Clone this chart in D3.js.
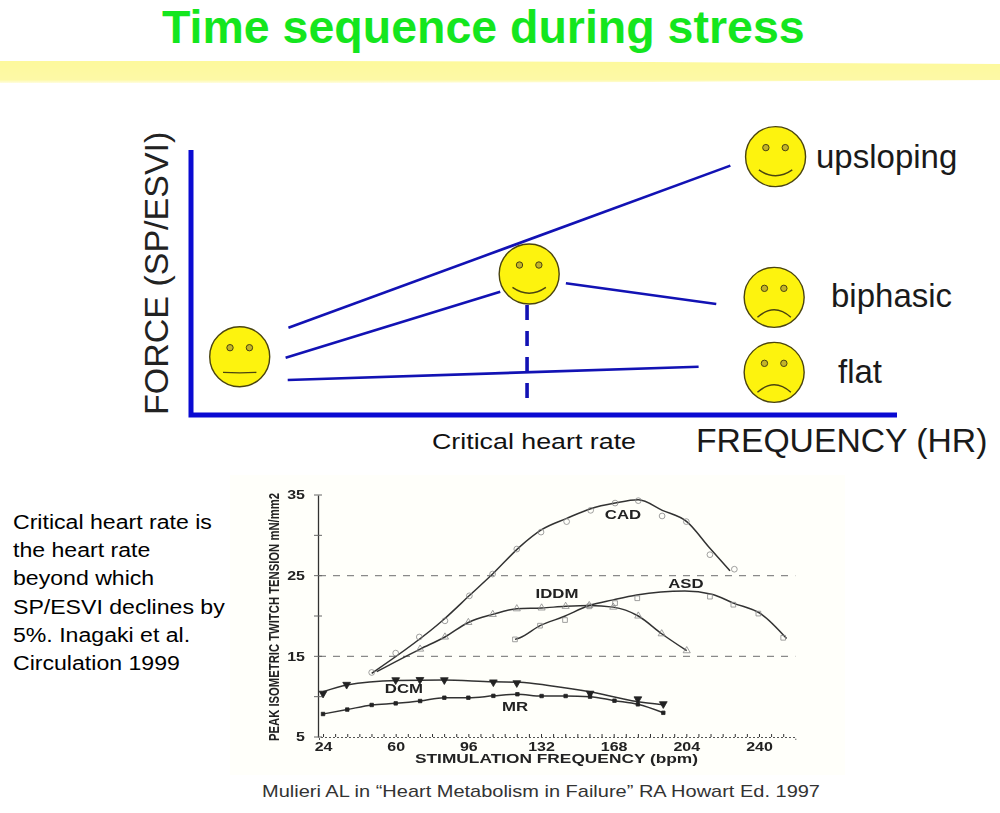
<!DOCTYPE html>
<html>
<head>
<meta charset="utf-8">
<script src="https://cdn.jsdelivr.net/npm/d3@7"></script>
<style>
  html, body { margin: 0; padding: 0; background: #fff; }
  text { font-family: "Liberation Sans", Arial, sans-serif; }
</style>
</head>
<body>
<script>
// Top sketch, both axes 0-100.
const sketchLines = [
  [[13.8, 32.9], [76.4, 94.1]],
  [[13.4, 21.6], [43.8, 46.5]],
  [[53.1, 49.7], [74.4, 41.9]],
  [[13.7, 13.2], [71.9, 18.2]]
];
const criticalLine = [[47.6, 41.5], [47.6, 6.3]];
const faces = [
  { x: 6.9, y: 22, mood: 'neutral' },
  { x: 47.9, y: 53.2, mood: 'smile' },
  { x: 82.8, y: 97.5, mood: 'smile' },
  { x: 82.6, y: 44.4, mood: 'frown' },
  { x: 82.6, y: 16.1, mood: 'frown' }
];

// Bottom chart. Symbols scatter around the fitted lines.
const cadPoints = [[48.1,13],[60,15.4],[71.7,17.4],[84.4,19.4],[96.5,22.5],[108,25.2],[120,28.3],[132,30.4],[144.7,31.7],[156.6,33.1],[168.7,34],[180.2,34.3],[192,32.4],[204,31.7],[215.7,27.6],[227.8,25.8]];
const cadLine = [[48.1,12.9],[83.5,19.5],[96.8,22.6],[108.4,25.3],[121.6,28.6],[132.3,30.7],[144.7,32.1],[156.6,33.3],[168.7,34],[180.2,34.4],[192.1,33.1],[204.2,31.7],[215.7,28.4],[225.7,25.6]];
const iddmPoints = [[72.1,15.9],[84.4,17.4],[96,19.2],[108.1,20.2],[120,20.9],[132.3,21],[144.2,21.2],[155.9,21.3],[167.8,21.1],[180.2,20],[191.8,17.8],[204.2,15.7]];
const iddmLine = [[50.6,13.1],[72.1,15.9],[84.4,17.4],[96,19.2],[108.1,20.2],[120,20.9],[132.3,21],[144.2,21.2],[155.9,21.3],[167.8,21.1],[180.2,20],[191.8,17.8],[204.2,15.7]];
const asdPoints = [[119.1,17.1],[131.5,18.8],[143.9,19.5],[155.9,21.2],[168.7,21.6],[179.7,22.2],[215.7,22.4],[227.3,21.4],[239.7,20.3],[252,17.3]];
const asdLine = [[119.1,17.1],[121.6,17.3],[131.5,18.8],[143,19.9],[155.9,21.3],[167.8,22],[179.4,22.6],[203.3,23.1],[216.6,22.7],[227.3,21.6],[241.3,20.2],[253.7,17.2]];
const dcmPoints = [[24,10.4],[35.7,11.5],[60,12.07],[72,12.1],[84.1,12.07],[108.4,11.8],[120,11.7],[156.3,10.4],[180,9.7],[192.6,9.1]];
const dcmLine = [[24,10.6],[35.7,11.45],[60.5,12],[83.5,12.07],[108.4,11.85],[121.6,11.8],[136.5,11.36],[156.3,10.6],[179.4,9.4],[192.4,9]];
const mrPoints = [[24,7.85],[36,8.4],[48.1,8.97],[60,9.17],[72.1,9.46],[84.1,9.87],[96,9.87],[108.4,10.1],[120.3,10.3],[132.3,10.08],[144.2,10.08],[156.3,10],[168.4,9.5],[180,9.05],[192.6,8]];
const curveNames = [
  { name: 'CAD', x: 172.6, y: 32.5 },
  { name: 'IDDM', x: 139.9, y: 22.7 },
  { name: 'ASD', x: 203.8, y: 24 },
  { name: 'DCM', x: 64.1, y: 10.95 },
  { name: 'MR', x: 119.1, y: 8.7 }
];
const xTicks = [24, 60, 96, 132, 168, 204, 240];
const xMinorTicks = d3.range(24, 258, 6);
const yTicks = [5, 15, 25, 35];
const yMinorTicks = [10, 20, 30];
const gridValues = [15, 25];
const noteLines = ['Critical heart rate is', 'the heart rate', 'beyond which', 'SP/ESVI declines by', '5%. Inagaki et al.', 'Circulation 1999'];

const width = 1000;
const height = 813;

const svg = d3.select('body').append('svg')
  .attr('width', width)
  .attr('height', height)
  .style('display', 'block');

const defs = svg.append('defs');
defs.append('filter').attr('id', 'scan')
  .append('feGaussianBlur').attr('stdDeviation', 0.45);
const bandFade = defs.append('linearGradient').attr('id', 'bandFade')
  .attr('x1', 0).attr('x2', 0).attr('y1', 0).attr('y2', 1);
bandFade.append('stop').attr('offset', '0%').attr('stop-color', '#fdf99c');
bandFade.append('stop').attr('offset', '85%').attr('stop-color', '#fdf9a6');
bandFade.append('stop').attr('offset', '100%').attr('stop-color', '#fffde0');

// Title and band.
svg.append('path')
  .attr('d', 'M0,61 L330,61 L650,62 L1000,64 L1000,80 L650,82 L330,83 L0,83 Z')
  .attr('fill', 'url(#bandFade)')
  .attr('filter', 'url(#scan)');

svg.append('text')
  .attr('x', 162)
  .attr('y', 43)
  .attr('font-size', 46.5)
  .attr('font-weight', 'bold')
  .attr('fill', '#14e61e')
  .text('Time sequence during stress');

// Top sketch.
const xSketch = d3.scaleLinear().domain([0, 100]).range([191, 897]);
const ySketch = d3.scaleLinear().domain([0, 100]).range([415, 150]);
const sketchLine = d3.line().x((d) => xSketch(d[0])).y((d) => ySketch(d[1]));

svg.append('path')
  .attr('d', sketchLine([[0, 100], [0, 0], [100, 0]]))
  .attr('fill', 'none')
  .attr('stroke', '#0a0ad2')
  .attr('stroke-width', 5);

svg.selectAll('.sketch-line')
  .data(sketchLines)
  .enter()
  .append('path')
  .attr('class', 'sketch-line')
  .attr('d', sketchLine)
  .attr('fill', 'none')
  .attr('stroke', '#1212b4')
  .attr('stroke-width', 2.6);

svg.append('path')
  .attr('d', sketchLine(criticalLine))
  .attr('fill', 'none')
  .attr('stroke', '#1212b4')
  .attr('stroke-width', 3.6)
  .attr('stroke-dasharray', '15 11');

const mouths = {
  neutral: 'M-16.7,15.7 Q0,16.6 16.7,15.7',
  smile: 'M-16.7,13.3 Q0,25 16.7,13.3',
  frown: 'M-16.7,20 Q0,5 16.7,20'
};

const face = svg.selectAll('.face')
  .data(faces)
  .enter()
  .append('g')
  .attr('class', 'face')
  .attr('transform', (d) => 'translate(' + xSketch(d.x) + ',' + ySketch(d.y) + ')');

face.append('circle')
  .attr('r', 30)
  .attr('fill', '#fdf30e')
  .attr('stroke', '#4a4410')
  .attr('stroke-width', 1.4);

face.selectAll('.eye')
  .data([-9.7, 9.7])
  .enter()
  .append('circle')
  .attr('class', 'eye')
  .attr('cx', (d) => d)
  .attr('cy', -9)
  .attr('r', 3.2)
  .attr('fill', '#c2b32a')
  .attr('stroke', '#4a4410')
  .attr('stroke-width', 1);

face.append('path')
  .attr('d', (d) => mouths[d.mood])
  .attr('fill', 'none')
  .attr('stroke', '#4a4410')
  .attr('stroke-width', 1.4);

svg.append('text')
  .attr('transform', 'translate(168,415) rotate(-90)')
  .attr('font-size', 34)
  .attr('fill', '#222')
  .text('FORCE (SP/ESVI)');

const sketchLabels = [
  { t: 'upsloping', x: 816, y: 168, s: 33 },
  { t: 'biphasic', x: 831, y: 307, s: 33 },
  { t: 'flat', x: 838, y: 383, s: 33 },
  { t: 'FREQUENCY (HR)', x: 696, y: 452, s: 33.7 }
];
svg.selectAll('.sketch-label')
  .data(sketchLabels)
  .enter()
  .append('text')
  .attr('class', 'sketch-label')
  .attr('x', (d) => d.x)
  .attr('y', (d) => d.y)
  .attr('font-size', (d) => d.s)
  .attr('fill', '#1a1a1a')
  .text((d) => d.t);

svg.append('text')
  .attr('x', 432)
  .attr('y', 449)
  .attr('font-size', 22.5)
  .attr('textLength', 204)
  .attr('lengthAdjust', 'spacingAndGlyphs')
  .attr('fill', '#111')
  .text('Critical heart rate');

// Left note, the slide's text is a bit wider than the font.
svg.selectAll('.note')
  .data(noteLines)
  .enter()
  .append('text')
  .attr('class', 'note')
  .attr('transform', (d, i) => 'translate(13,' + (529 + i * 28.2) + ') scale(1.1,1)')
  .attr('font-size', 21)
  .attr('fill', '#000')
  .text((d) => d);

// Bottom chart.
svg.append('rect')
  .attr('x', 230).attr('y', 475)
  .attr('width', 615).attr('height', 300)
  .attr('fill', '#fffffa');

const xScale = d3.scaleLinear().domain([22, 258]).range([319, 795.3]);
const yScale = d3.scaleLinear().domain([5, 35]).range([737, 495]);
const chart = svg.append('g').attr('filter', 'url(#scan)');

chart.selectAll('.grid')
  .data(gridValues)
  .enter()
  .append('line')
  .attr('class', 'grid')
  .attr('x1', xScale(22))
  .attr('x2', xScale(258))
  .attr('y1', (d) => yScale(d))
  .attr('y2', (d) => yScale(d))
  .attr('stroke', '#8a8a8a')
  .attr('stroke-width', 1.2)
  .attr('stroke-dasharray', '7 7');

const xAxisMinor = d3.axisBottom(xScale).tickValues(xMinorTicks).tickSize(3).tickFormat('');
chart.append('g')
  .attr('transform', 'translate(0,' + yScale(5) + ')')
  .call(xAxisMinor)
  .call((g) => g.select('.domain').attr('stroke-dasharray', '2 2').attr('stroke', '#555'))
  .call((g) => g.selectAll('.tick line').attr('y1', -3).attr('y2', 0).attr('stroke', '#333'));

// Tick digits on the scan are short and wide.
const wideDigits = (sel) => sel
  .attr('font-size', 12)
  .attr('font-weight', 'bold')
  .attr('fill', '#222')
  .attr('lengthAdjust', 'spacingAndGlyphs')
  .attr('textLength', function () { return this.textContent.length * 8.9; });

const xAxis = d3.axisBottom(xScale).tickValues(xTicks).tickSize(0);
chart.append('g')
  .attr('transform', 'translate(0,' + yScale(5) + ')')
  .call(xAxis)
  .call((g) => g.select('.domain').remove())
  .call((g) => g.selectAll('text').attr('y', 14).attr('dy', 0).call(wideDigits));

const yAxis = d3.axisLeft(yScale).tickValues(yTicks).tickSize(0).tickPadding(13);
chart.append('g')
  .attr('transform', 'translate(318,0)')
  .call(yAxis)
  .call((g) => g.select('.domain').attr('stroke', '#333').attr('stroke-width', 1.3))
  .call((g) => g.selectAll('text').call(wideDigits));

chart.selectAll('.y-minor')
  .data(yTicks.concat(yMinorTicks))
  .enter()
  .append('line')
  .attr('class', 'y-minor')
  .attr('x1', 314)
  .attr('x2', 322)
  .attr('y1', (d) => yScale(d))
  .attr('y2', (d) => yScale(d))
  .attr('stroke', '#666');

const curve = d3.line()
  .x((d) => xScale(d[0]))
  .y((d) => yScale(d[1]))
  .curve(d3.curveMonotoneX);

chart.selectAll('.fit')
  .data([cadLine, iddmLine, asdLine, dcmLine, mrPoints])
  .enter()
  .append('path')
  .attr('class', 'fit')
  .attr('d', curve)
  .attr('fill', 'none')
  .attr('stroke', '#333')
  .attr('stroke-width', 1.5);

const drawSymbols = (points, type, size, fill, stroke, rotate) => {
  chart.append('g')
    .selectAll('path')
    .data(points)
    .enter()
    .append('path')
    .attr('d', d3.symbol().type(type).size(size))
    .attr('transform', (d) => 'translate(' + xScale(d[0]) + ',' + yScale(d[1]) + ') rotate(' + rotate + ')')
    .attr('fill', fill)
    .attr('stroke', stroke)
    .attr('stroke-width', 0.8);
};

drawSymbols(cadPoints, d3.symbolCircle, 26, 'none', '#888', 0);
drawSymbols(iddmPoints, d3.symbolTriangle, 22, 'none', '#888', 0);
drawSymbols(asdPoints, d3.symbolSquare, 22, 'none', '#888', 0);
drawSymbols(dcmPoints, d3.symbolTriangle, 26, '#222', '#222', 180);
drawSymbols(mrPoints, d3.symbolSquare, 12, '#222', '#222', 0);

chart.selectAll('.curve-name')
  .data(curveNames)
  .enter()
  .append('text')
  .attr('class', 'curve-name')
  .attr('transform', (d) => 'translate(' + xScale(d.x) + ',' + yScale(d.y) + ') scale(1.4,1)')
  .attr('text-anchor', 'middle')
  .attr('dominant-baseline', 'central')
  .attr('font-size', 12)
  .attr('font-weight', 'bold')
  .attr('fill', '#222')
  .text((d) => d.name);

chart.append('text')
  .attr('x', 415)
  .attr('y', 763)
  .attr('font-size', 12)
  .attr('font-weight', 'bold')
  .attr('textLength', 283)
  .attr('lengthAdjust', 'spacingAndGlyphs')
  .attr('fill', '#222')
  .text('STIMULATION FREQUENCY (bpm)');

chart.append('text')
  .attr('transform', 'translate(279,741) rotate(-90)')
  .attr('font-size', 15)
  .attr('font-weight', 'bold')
  .attr('textLength', 248)
  .attr('lengthAdjust', 'spacingAndGlyphs')
  .attr('fill', '#222')
  .text('PEAK ISOMETRIC TWITCH TENSION  mN/mm2');

svg.append('text')
  .attr('x', 262)
  .attr('y', 797)
  .attr('font-size', 17)
  .attr('textLength', 558)
  .attr('lengthAdjust', 'spacingAndGlyphs')
  .attr('fill', '#333')
  .text('Mulieri AL in \u201CHeart Metabolism in Failure\u201D RA Howart Ed. 1997');
</script>
</body>
</html>
